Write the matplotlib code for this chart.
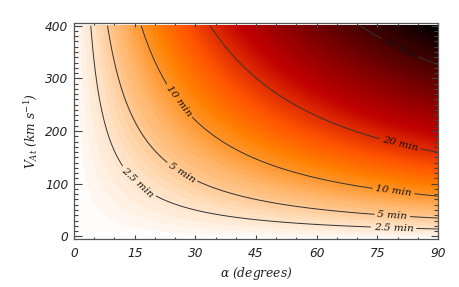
import numpy as np
import matplotlib
matplotlib.use("Agg")
import matplotlib.pyplot as plt
from matplotlib.ticker import MultipleLocator

plt.rcParams["mathtext.fontset"] = "dejavuserif"

# ---- values ----
contour_levels = [2.5, 5, 10, 20, 40]                 # minutes
label_alpha = [15.6, 79.0, 26.7, 78.7, 25.8, 79.0, 80.7, 80.7]
label_vat = [101, 15, 122, 40, 256, 86, 179, 361]
x_ticks = [0, 15, 30, 45, 60, 75, 90]
y_ticks = [0, 100, 200, 300, 400]
# model constants fitted to the contour positions
slope_min_per_kms = 0.1202     # minutes per km/s at alpha = 90 deg
v_offset = 6.8                 # km/s
alpha_max, vat_max = 90.0, 400.0

alpha = np.linspace(0, alpha_max, 361)
vat = np.linspace(0, vat_max, 401)
A, V = np.meshgrid(alpha, vat)
T = slope_min_per_kms * (V + v_offset) * np.sin(np.radians(A) / 2) / np.sin(np.radians(45))

fig = plt.figure(figsize=(4.6, 2.87), dpi=100)
ax = fig.add_axes([74 / 460, 1 - 239 / 287, 364 / 460, 216 / 287])

tmax = T.max()
cf = ax.contourf(A, V, T, levels=np.linspace(0, tmax, 90), cmap="gist_heat_r",
                 vmin=0, vmax=tmax)
cf.set_edgecolor("face")
cf.set_linewidth(0.4)
cs = ax.contour(A, V, T, levels=contour_levels, colors="#333333", linewidths=0.7)
labs = ax.clabel(cs, inline=True, inline_spacing=3, fontsize=7.5,
                 fmt=lambda v: f"{v:g} min",
                 manual=list(zip(label_alpha, label_vat)))
assert len(labs) == 8, [t.get_text() for t in labs]
for t in labs:
    t.set_family("DejaVu Serif")
    t.set_style("italic")
    t.set_color("#111111")

ax.set_xlim(0, 90)
ax.set_ylim(-5, 405)
ax.set_xticks(x_ticks)
ax.set_yticks(y_ticks)
ax.xaxis.set_minor_locator(MultipleLocator(5))
ax.yaxis.set_minor_locator(MultipleLocator(10))
ax.tick_params(axis="both", which="both", direction="in", top=True, right=True,
               color="#444444", width=0.8)
ax.tick_params(axis="x", which="major", length=3.1, pad=6)
ax.tick_params(axis="x", which="minor", length=1.6)
ax.tick_params(axis="y", which="major", length=5.4, pad=4)
ax.tick_params(axis="y", which="minor", length=2.9)
for lab in ax.get_xticklabels() + ax.get_yticklabels():
    lab.set_family("DejaVu Sans")
    lab.set_style("italic")
    lab.set_fontsize(8.7)
    lab.set_color("#222222")
for s in ax.spines.values():
    s.set_color("#555555")
    s.set_linewidth(0.9)

ax.set_xlabel(r"$\alpha$ (degrees)", family="DejaVu Serif", style="italic",
              fontsize=8.8, color="#222222", labelpad=3)
ax.set_ylabel(r"$V_{At}$ (km s$^{-1}$)", family="DejaVu Serif", style="italic",
              fontsize=8.8, color="#222222", labelpad=4)

fig.savefig("out.png", dpi=100)
